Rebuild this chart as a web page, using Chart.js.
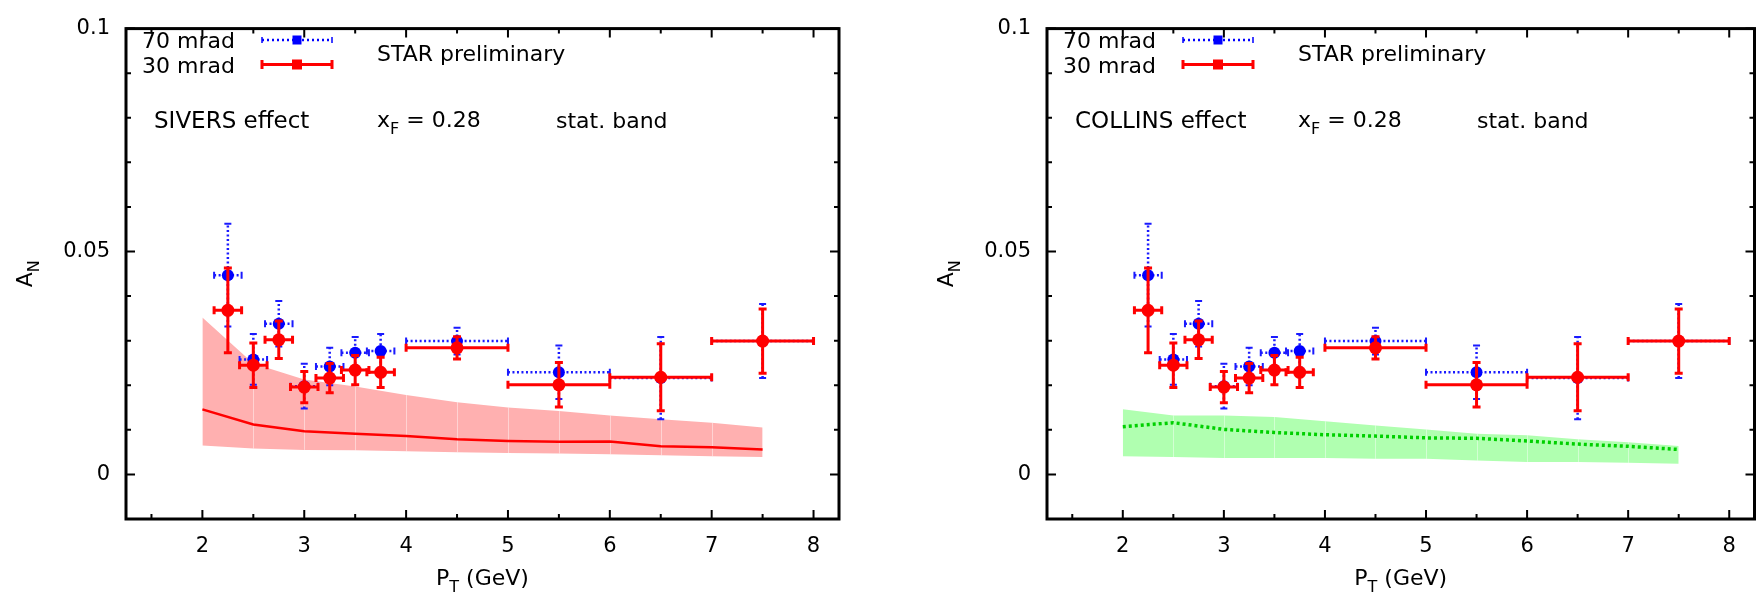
<!DOCTYPE html>
<html>
<head>
<meta charset="utf-8">
<script src="https://cdn.jsdelivr.net/npm/chart.js@4.4.0/dist/chart.umd.min.js"></script>
<style>
  html, body { margin: 0; padding: 0; background: #fff; }
  #wrap { position: relative; width: 1761px; height: 593px; }
  .panel { position: absolute; top: 0; height: 593px; }
  #p1 { left: 0; width: 880px; }
  #p2 { left: 880px; width: 881px; }
</style>
</head>
<body>
<div id="wrap">
  <div class="panel" id="p1"><canvas id="sivers"></canvas></div>
  <div class="panel" id="p2"><canvas id="collins"></canvas></div>
</div>
<script>
// pT bins (GeV), same for both angles
const ptCenters = [2.25, 2.5, 2.75, 3.0, 3.25, 3.5, 3.75, 4.5, 5.5, 6.5, 7.5];
const ptHalfWidth = [0.135, 0.135, 0.135, 0.135, 0.135, 0.135, 0.135, 0.5, 0.5, 0.5, 0.5];

// 70 mrad
const an70 = [0.0447, 0.0258, 0.0338, 0.0198, 0.0242, 0.0273, 0.0277, 0.0299, 0.0229, 0.0216, 0.0299];
const err70 = [0.0115, 0.0057, 0.0051, 0.0050, 0.0042, 0.0035, 0.0038, 0.0030, 0.0060, 0.0092, 0.0083];

// 30 mrad
const an30 = [0.0368, 0.0245, 0.0302, 0.0196, 0.0216, 0.0234, 0.0229, 0.0284, 0.0201, 0.0218, 0.0299];
const err30 = [0.0095, 0.0050, 0.0042, 0.0035, 0.0033, 0.0033, 0.0034, 0.0025, 0.0050, 0.0075, 0.0072];

// model bands
const bandPt = [2.0, 2.5, 3.0, 3.5, 4.0, 4.5, 5.0, 5.5, 6.0, 6.5, 7.0, 7.5];
const siversUpper = [0.0352, 0.0249, 0.0213, 0.0197, 0.0178, 0.0162, 0.0150, 0.0142, 0.0132, 0.0124, 0.0116, 0.0105];
const siversMean  = [0.0146, 0.0112, 0.0097, 0.0091, 0.0086, 0.0079, 0.0075, 0.0073, 0.0074, 0.0063, 0.0061, 0.0056];
const siversLower = [0.0065, 0.0058, 0.0055, 0.0054, 0.0052, 0.0050, 0.0048, 0.0047, 0.0045, 0.0043, 0.0041, 0.0039];
const collinsUpper = [0.0146, 0.0132, 0.0132, 0.0129, 0.0119, 0.0110, 0.0101, 0.0091, 0.0088, 0.0079, 0.0072, 0.0064];
const collinsMean  = [0.0107, 0.0116, 0.0101, 0.0094, 0.0089, 0.0086, 0.0082, 0.0081, 0.0075, 0.0068, 0.0063, 0.0056];
const collinsLower = [0.0041, 0.0039, 0.0037, 0.0037, 0.0037, 0.0035, 0.0035, 0.0031, 0.0028, 0.0028, 0.0026, 0.0024];

// ticks
const xTickLabels = [2, 3, 4, 5, 6, 7, 8];
const yTickLabels = [0, 0.05, 0.1];
const xTickMarks = [1.5, 2, 2.5, 3, 3.5, 4, 4.5, 5, 5.5, 6, 6.5, 7, 7.5, 8];
const yTickMarks = [0, 0.01, 0.02, 0.03, 0.04, 0.05, 0.06, 0.07, 0.08, 0.09, 0.1];

const FONT = '"DejaVu Sans", sans-serif';

function pts(xs, ys) {
  return xs.map((x, i) => ({ x: x, y: ys[i] }));
}

// error bars drawn under the markers of each dataset,
// faint seams drawn over the band
const errorBarPlugin = {
  id: "errorBars",
  afterDatasetDraw(chart, args) {
    const ds = chart.data.datasets[args.index];
    if (!ds.seamLower) return;
    const ctx = chart.ctx, sx = chart.scales.x, sy = chart.scales.y;
    ctx.save();
    ctx.strokeStyle = "rgba(255,255,255,0.45)";
    ctx.lineWidth = 1;
    ds.data.forEach((p, i) => {
      if (i === 0 || i === ds.data.length - 1) return;
      const px = Math.round(sx.getPixelForValue(p.x)) + 0.5;
      ctx.beginPath();
      ctx.moveTo(px, sy.getPixelForValue(p.y));
      ctx.lineTo(px, sy.getPixelForValue(ds.seamLower[i]));
      ctx.stroke();
    });
    ctx.restore();
  },
  beforeDatasetDraw(chart, args) {
    const ds = chart.data.datasets[args.index];
    if (!ds.errY) return;
    const ctx = chart.ctx, sx = chart.scales.x, sy = chart.scales.y;
    ctx.save();
    ctx.strokeStyle = ds.barColor;
    ds.data.forEach((p, i) => {
      const px = sx.getPixelForValue(p.x), py = sy.getPixelForValue(p.y);
      const x0 = sx.getPixelForValue(p.x - ds.errX[i]), x1 = sx.getPixelForValue(p.x + ds.errX[i]);
      const y0 = sy.getPixelForValue(p.y - ds.errY[i]), y1 = sy.getPixelForValue(p.y + ds.errY[i]);
      ctx.lineWidth = ds.barWidth;
      ctx.setLineDash(ds.barDash);
      ctx.beginPath();
      ctx.moveTo(x0, py); ctx.lineTo(x1, py);
      ctx.moveTo(px, y0); ctx.lineTo(px, y1);
      ctx.stroke();
      const c = ds.capSize;
      ctx.setLineDash([]);
      ctx.lineWidth = ds.capWidth;
      ctx.beginPath();
      ctx.moveTo(x0, py - c); ctx.lineTo(x0, py + c);
      ctx.moveTo(x1, py - c); ctx.lineTo(x1, py + c);
      ctx.moveTo(px - c, y0); ctx.lineTo(px + c, y0);
      ctx.moveTo(px - c, y1); ctx.lineTo(px + c, y1);
      ctx.stroke();
    });
    ctx.restore();
  }
};

// black frame with inward ticks on the four sides
const framePlugin = {
  id: "frame",
  afterDraw(chart) {
    const ctx = chart.ctx, a = chart.chartArea, sx = chart.scales.x, sy = chart.scales.y;
    ctx.save();
    ctx.strokeStyle = "#000";
    ctx.lineWidth = 2;
    xTickMarks.forEach(v => {
      const px = sx.getPixelForValue(v);
      const len = Number.isInteger(v) ? 9 : 5;
      ctx.beginPath();
      ctx.moveTo(px, a.bottom); ctx.lineTo(px, a.bottom - len);
      ctx.moveTo(px, a.top); ctx.lineTo(px, a.top + len);
      ctx.stroke();
    });
    yTickMarks.forEach(v => {
      const py = sy.getPixelForValue(v);
      const len = yTickLabels.includes(v) ? 9 : 5;
      ctx.beginPath();
      ctx.moveTo(a.left, py); ctx.lineTo(a.left + len, py);
      ctx.moveTo(a.right, py); ctx.lineTo(a.right - len, py);
      ctx.stroke();
    });
    ctx.lineWidth = 3;
    ctx.strokeRect(a.left, a.top, a.right - a.left, a.bottom - a.top);
    ctx.restore();
  }
};

function subText(ctx, x, y, main, sub, rest, size) {
  ctx.font = size + "px " + FONT;
  ctx.fillText(main, x, y);
  let w = ctx.measureText(main).width;
  ctx.font = Math.round(size * 0.72) + "px " + FONT;
  ctx.fillText(sub, x + w, y + size * 0.3);
  w += ctx.measureText(sub).width;
  ctx.font = size + "px " + FONT;
  ctx.fillText(rest, x + w, y);
  return w + ctx.measureText(rest).width;
}

function makePanel(id, effectLabel, upper, mean, lower, bandColor, lineColor, lineDash, lineWidth, yWidth, padRight) {
  const textPlugin = {
    id: "texts",
    afterDraw(chart) {
      const ctx = chart.ctx, a = chart.chartArea;
      const L = a.left;
      ctx.save();
      ctx.fillStyle = "#000";
      ctx.textBaseline = "alphabetic";
      ctx.textAlign = "left";
      ctx.font = "22px " + FONT;
      ctx.fillText("70 mrad", L + 16, 48);
      ctx.fillText("30 mrad", L + 16, 73);
      ctx.fillText("STAR preliminary", L + 251, 61);
      ctx.font = "23px " + FONT;
      ctx.fillText(effectLabel, L + 28, 128);
      subText(ctx, L + 251, 127, "x", "F", " = 0.28", 22);
      ctx.font = "22px " + FONT;
      ctx.fillText("stat. band", L + 430, 128);

      // legend samples
      const x0 = L + 136, x1 = L + 206, xm = L + 171;
      ctx.strokeStyle = "#0000ff";
      ctx.lineWidth = 2.5;
      ctx.setLineDash([2, 3]);
      ctx.beginPath(); ctx.moveTo(x0, 40); ctx.lineTo(x1, 40); ctx.stroke();
      ctx.setLineDash([]);
      ctx.lineWidth = 1.5;
      ctx.beginPath();
      ctx.moveTo(x0, 37); ctx.lineTo(x0, 43); ctx.moveTo(x1, 37); ctx.lineTo(x1, 43);
      ctx.stroke();
      ctx.fillStyle = "#0000ff";
      ctx.fillRect(xm - 4.5, 35.5, 9, 9);
      ctx.strokeStyle = "#ff0000";
      ctx.lineWidth = 3;
      ctx.beginPath(); ctx.moveTo(x0, 64.5); ctx.lineTo(x1, 64.5); ctx.stroke();
      ctx.beginPath();
      ctx.moveTo(x0, 60); ctx.lineTo(x0, 69); ctx.moveTo(x1, 60); ctx.lineTo(x1, 69);
      ctx.stroke();
      ctx.fillStyle = "#ff0000";
      ctx.fillRect(xm - 5, 59.5, 10, 10);

      // axis titles
      ctx.fillStyle = "#000";
      ctx.textAlign = "left";
      ctx.font = "22px " + FONT;
      let w = ctx.measureText("P").width;
      ctx.font = "16px " + FONT;
      w += ctx.measureText("T").width;
      ctx.font = "22px " + FONT;
      w += ctx.measureText(" (GeV)").width;
      subText(ctx, (a.left + a.right) / 2 - w / 2, 585, "P", "T", " (GeV)", 22);

      ctx.translate(L - 94, (a.top + a.bottom) / 2);
      ctx.rotate(-Math.PI / 2);
      ctx.font = "22px " + FONT;
      let wa = ctx.measureText("A").width;
      ctx.font = "16px " + FONT;
      wa += ctx.measureText("N").width;
      subText(ctx, -wa / 2, 0, "A", "N", "", 22);
      ctx.restore();
    }
  };

  return new Chart(document.getElementById(id), {
    type: "scatter",
    data: {
      datasets: [
        {
          type: "line", label: "band upper", data: pts(bandPt, upper), seamLower: lower,
          borderWidth: 0, pointRadius: 0, fill: "+1", backgroundColor: bandColor, order: 5
        },
        {
          type: "line", label: "band lower", data: pts(bandPt, lower),
          borderWidth: 0, pointRadius: 0, fill: false, order: 5
        },
        {
          type: "line", label: "mean", data: pts(bandPt, mean),
          borderColor: lineColor, borderWidth: lineWidth, borderDash: lineDash,
          pointRadius: 0, fill: false, order: 4
        },
        {
          label: "70 mrad", data: pts(ptCenters, an70),
          errX: ptHalfWidth, errY: err70,
          barColor: "#1a1aff", barWidth: 2.5, barDash: [2, 2.5], capSize: 3.5, capWidth: 2,
          pointStyle: "circle", pointRadius: 6, backgroundColor: "#0000ff", borderWidth: 0, order: 2
        },
        {
          label: "30 mrad", data: pts(ptCenters, an30),
          errX: ptHalfWidth, errY: err30,
          barColor: "#ff0000", barWidth: 3, barDash: [], capSize: 4, capWidth: 3,
          pointStyle: "circle", pointRadius: 6.5, backgroundColor: "#ff0000", borderWidth: 0, order: 1
        }
      ]
    },
    options: {
      responsive: true,
      maintainAspectRatio: false,
      animation: false,
      layout: { padding: { top: 18, left: 0, right: padRight, bottom: 0 } },
      plugins: { legend: { display: false }, tooltip: { enabled: false } },
      scales: {
        x: {
          type: "linear", min: 1.25, max: 8.25,
          afterBuildTicks: s => { s.ticks = xTickLabels.map(v => ({ value: v })); },
          afterFit: s => { s.height = 74; },
          grid: { display: false, drawTicks: false }, border: { display: false },
          ticks: { font: { family: FONT, size: 21 }, color: "#000", padding: 15, maxRotation: 0, autoSkip: false,
                   callback: v => String(v) }
        },
        y: {
          type: "linear", min: -0.01, max: 0.1,
          afterBuildTicks: s => { s.ticks = yTickLabels.map(v => ({ value: v })); },
          afterFit: s => { s.width = yWidth; },
          grid: { display: false, drawTicks: false }, border: { display: false },
          ticks: { font: { family: FONT, size: 21 }, color: "#000", padding: 16, autoSkip: false,
                   callback: v => String(v) }
        }
      }
    },
    plugins: [errorBarPlugin, framePlugin, textPlugin]
  });
}

makePanel("sivers", "SIVERS effect", siversUpper, siversMean, siversLower,
  "#ffb0b0", "#ff0000", [], 2.5, 126, 41);
makePanel("collins", "COLLINS effect", collinsUpper, collinsMean, collinsLower,
  "#b0ffb0", "#00d000", [3, 3], 3.5, 167, 2);
</script>
</body>
</html>
